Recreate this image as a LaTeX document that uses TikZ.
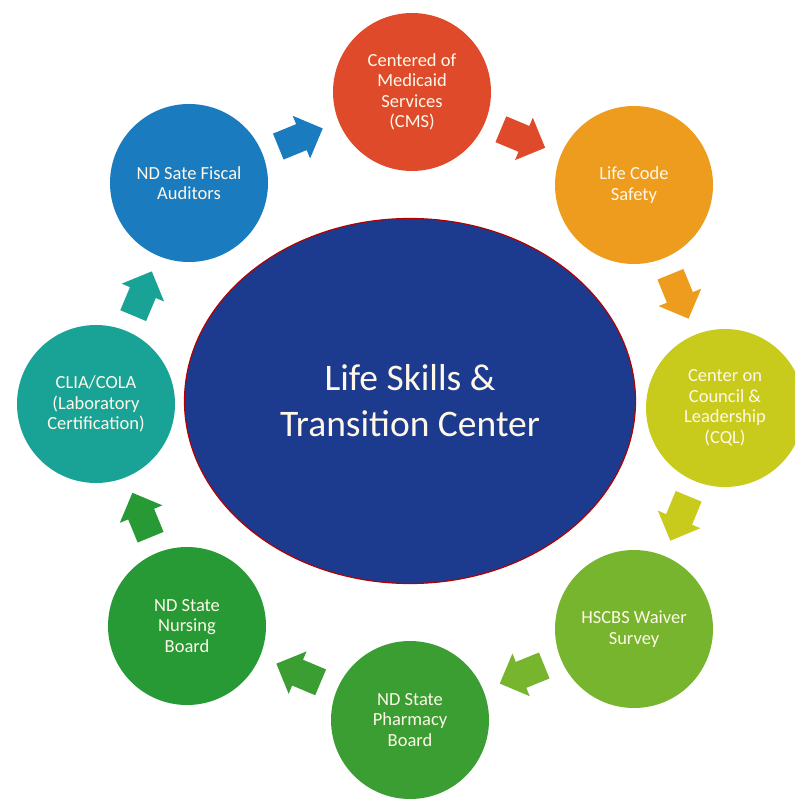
\documentclass[tikz,border=0pt]{standalone}
\usepackage{fontspec}
\setmainfont{Carlito}
\usetikzlibrary{shapes.geometric,calc}
\definecolor{cfiscal}{HTML}{1A7BBF}
\definecolor{ccms}{HTML}{DF4A2A}
\definecolor{clife}{HTML}{EE9C1E}
\definecolor{ccql}{HTML}{C9CB1C}
\definecolor{chscbs}{HTML}{78B52E}
\definecolor{cpharm}{HTML}{3A9E33}
\definecolor{cnurse}{HTML}{279A36}
\definecolor{cclia}{HTML}{18A396}
\definecolor{ccenter}{HTML}{1D3B8E}
\definecolor{ctext}{HTML}{FFF8E8}
\tikzset{
  orbit/.style={circle, minimum size=158pt, inner sep=0pt, draw=none, text=ctext, align=center, font=\fontsize{18.5}{20.5}\selectfont},
  hub/.style={ellipse, minimum width=451pt, minimum height=365pt, inner sep=0pt, fill=ccenter, draw=red!70!black, line width=1.2pt, text=ctext, align=center, font=\fontsize{37.5}{46}\selectfont},
}
\newcommand{\flowarrow}[3]{%
  \path ($(#1)!0.5!(#2)$) coordinate (m#1);
  \pgfmathanglebetweenpoints{\pgfpointanchor{#1}{center}}{\pgfpointanchor{#2}{center}}%
  \let\arrang\pgfmathresult
  \fill[#3, shift={(m#1)}, rotate=\arrang]
    (-24,-14) -- (1,-14) -- (1,-23) -- (24,0) -- (1,23) -- (1,14) -- (-24,14) -- cycle;}
\begin{document}
\begin{tikzpicture}[x=1pt,y=-1pt]
\useasboundingbox (0,0) rectangle (795,799);
\fill[white] (0,0) rectangle (795,799);
\begin{scope}
\clip (0,0) rectangle (795,799);
\node[hub] (hub) at (410,401) {Life Skills \&\\Transition Center};
\node[orbit, fill=ccms] (cms) at (412,92) {Centered of\\Medicaid\\Services\\(CMS)};
\node[orbit, fill=clife] (life) at (634,185) {Life Code\\Safety};
\node[orbit, fill=ccql] (cql) at (725,408) {Center on\\Council \&\\Leadership\\(CQL)};
\node[orbit, fill=chscbs] (hscbs) at (634,629) {HSCBS Waiver\\Survey};
\node[orbit, fill=cpharm] (pharm) at (410,720) {ND State\\Pharmacy\\Board};
\node[orbit, fill=cnurse] (nurse) at (187,626) {ND State\\Nursing\\Board};
\node[orbit, fill=cclia] (clia) at (96,404) {CLIA/COLA\\(Laboratory\\Certification)};
\node[orbit, fill=cfiscal] (fiscal) at (189,183) {ND Sate Fiscal\\Auditors};
\flowarrow{fiscal}{cms}{cfiscal}
\flowarrow{cms}{life}{ccms}
\flowarrow{life}{cql}{clife}
\flowarrow{cql}{hscbs}{ccql}
\flowarrow{hscbs}{pharm}{chscbs}
\flowarrow{pharm}{nurse}{cpharm}
\flowarrow{nurse}{clia}{cnurse}
\flowarrow{clia}{fiscal}{cclia}
\end{scope}
\end{tikzpicture}
\end{document}
